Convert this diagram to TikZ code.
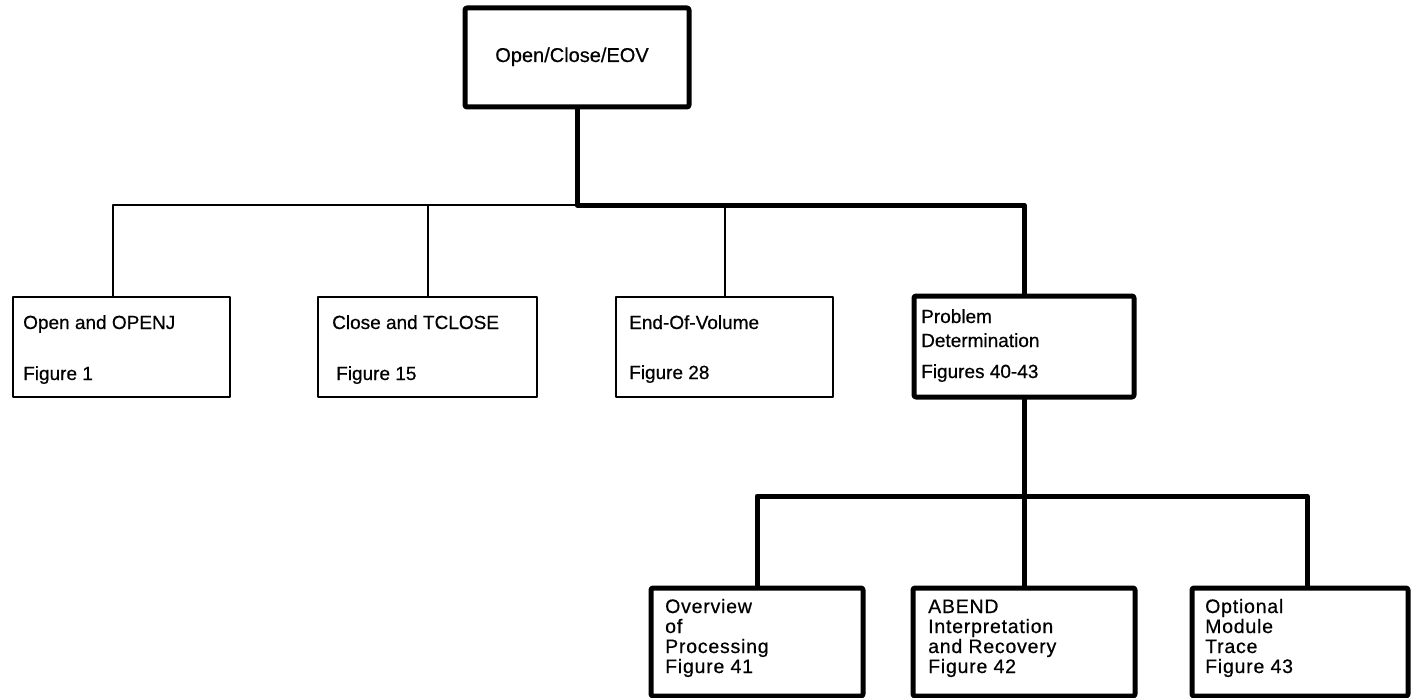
\documentclass[tikz,border=0pt]{standalone}
\usepackage{fontspec}
\setmainfont[FakeBold=0.6]{Liberation Sans}
\newfontfamily\spacedfont[LetterSpace=4,FakeBold=0.6]{Liberation Sans}
\begin{document}
\begin{tikzpicture}[x=1pt,y=-1pt,line join=round]
\tikzset{
  box/.style={draw,line width=2pt,anchor=north west,inner sep=0pt,outer sep=0pt},
  boldbox/.style={box,line width=5pt,rounded corners=2pt},
  lbl/.style={anchor=base west,inner sep=0pt,font=\fontsize{19}{19}\selectfont},
  lowlbl/.style={anchor=base west,inner sep=0pt,font=\spacedfont\fontsize{19.5}{19.5}\selectfont},
  wire/.style={line width=2pt},
  boldwire/.style={line width=5pt}
}
\useasboundingbox (0,0) rectangle (1415,698);

% root
\node[boldbox,minimum width=224pt,minimum height=99pt] (root) at (465,8) {};
\node[anchor=base,inner sep=0pt,font=\fontsize{20}{20}\selectfont] (rootT) at (572,62) {Open/Close/EOV};

% first level
\node[box,minimum width=217pt,minimum height=100pt] (open) at (13,297) {};
\node[lbl] (openA) at (23,329) {Open and OPENJ};
\node[lbl] (openB) at (23,380) {Figure 1};

\node[box,minimum width=219pt,minimum height=100pt] (close) at (318,297) {};
\node[lbl] (closeA) at (332,329) {Close and TCLOSE};
\node[lbl] (closeB) at (336,380) {Figure 15};

\node[box,minimum width=217pt,minimum height=100pt] (eov) at (616,297) {};
\node[lbl] (eovA) at (629,329) {End-Of-Volume};
\node[lbl] (eovB) at (629,379) {Figure 28};

\node[boldbox,minimum width=220pt,minimum height=101pt] (prob) at (914,296) {};
\node[lbl] (probA) at (921,323) {Problem};
\node[lbl] (probB) at (921,347) {Determination};
\node[lbl] (probC) at (921,378) {Figures 40-43};

% second level
\node[boldbox,minimum width=212pt,minimum height=108pt] (ovw) at (651,588) {};
\node[lowlbl] (ovwA) at (665,613) {Overview};
\node[lowlbl] (ovwB) at (665,633) {of};
\node[lowlbl] (ovwC) at (665,653) {Processing};
\node[lowlbl] (ovwD) at (665,673) {Figure 41};

\node[boldbox,minimum width=222pt,minimum height=108pt] (abend) at (913,588) {};
\node[lowlbl] (abendA) at (928,613) {ABEND};
\node[lowlbl] (abendB) at (928,633) {Interpretation};
\node[lowlbl] (abendC) at (928,653) {and Recovery};
\node[lowlbl] (abendD) at (928,673) {Figure 42};

\node[boldbox,minimum width=216pt,minimum height=108pt] (opt) at (1192,588) {};
\node[lowlbl] (optA) at (1205,613) {Optional};
\node[lowlbl] (optB) at (1205,633) {Module};
\node[lowlbl] (optC) at (1205,653) {Trace};
\node[lowlbl] (optD) at (1205,673) {Figure 43};

% junction points
\coordinate (j0) at (577,205);
\coordinate (busL) at (113,205);
\coordinate (j2) at (1024,496);
\coordinate (j3) at (1307,496);

% connectors, first level
\draw[wire] (j0) -- (busL) -- (busL |- open.north);
\draw[wire] (close.north |- j0) -- (close.north);
\draw[wire] (eov.north |- j0) -- (eov.north);
\draw[boldwire] (root.south) -- (j0) -| (prob.north);

% connectors, second level
\draw[boldwire] (prob.south) -- (abend.north);
\draw[boldwire] (ovw.north) |- (j2) -- (j3) -- (j3 |- opt.north);
\end{tikzpicture}
\end{document}
